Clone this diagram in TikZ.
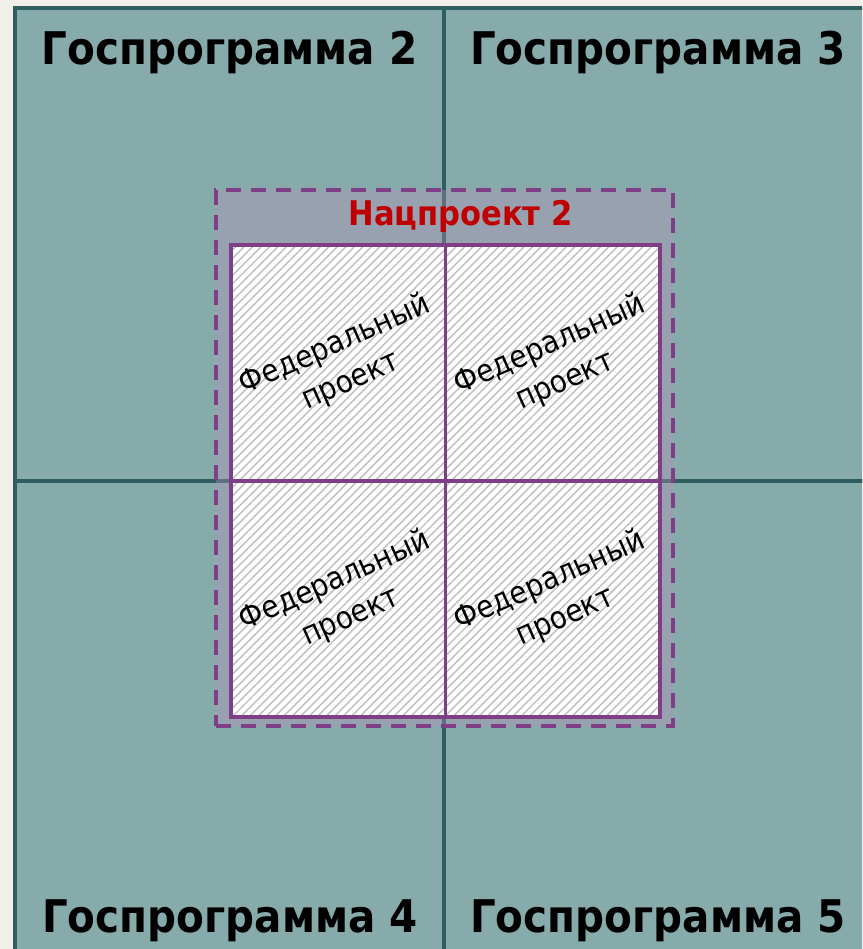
\documentclass[tikz,border=0pt]{standalone}
\usepackage{fontspec}
\setmainfont{DejaVu Sans}[FakeStretch=0.9]
\usetikzlibrary{positioning,patterns.meta}
\definecolor{paper}{HTML}{F1EFE8}
\definecolor{gpfill}{HTML}{87AAAA}
\definecolor{gpline}{HTML}{2F5E61}
\definecolor{npline}{HTML}{7F3F87}
\definecolor{npfill}{HTML}{B893BB}
\definecolor{npred}{HTML}{C00000}
\definecolor{hatch}{HTML}{BDBDBD}

\begin{document}
\begin{tikzpicture}[x=1pt,y=-1pt,
every node/.style = {inner sep=0pt, outer sep=0pt},
gparea/.style = {fill=gpfill, draw=gpline, line width=3.5pt},
gplabel/.style = {anchor=base, font=\fontsize{45}{52}\selectfont\bfseries},
npbox/.style = {fill=npfill, fill opacity=0.35, draw=npline, draw opacity=1,
  line width=4pt, dash pattern=on 15pt off 10pt},
cell/.style = {draw=npline, line width=3.5pt, minimum width=214.5pt,
  minimum height=236pt, preaction={fill=white},
  pattern={Lines[angle=45,distance=6pt,line width=1.4pt]}, pattern color=hatch},
fptext/.style = {align=center, rotate=24, font=\fontsize{31}{39}\selectfont} ]
\useasboundingbox (0,0) rectangle (862,949);
\clip (0,0) rectangle (862,949);
\fill[paper] (0,0) rectangle (862,949);
% four state programmes
\draw[gparea] (15,8) rectangle (444,481);
\draw[gparea] (444,8) rectangle (890,481);
\draw[gparea] (15,481) rectangle (444,970);
\draw[gparea] (444,481) rectangle (890,970);
\node[gplabel] (gp2) at (229.5,65) {Госпрограмма 2};
\node[gplabel] (gp3) at (658,65) {Госпрограмма 3};
\node[gplabel] (gp4) at (230,932) {Госпрограмма 4};
\node[gplabel] (gp5) at (658,932) {Госпрограмма 5};
% national project
\node[npbox, minimum width=457pt, minimum height=536pt] (np) at (444.5,458) {};
\node[anchor=base, text=npred, font=\fontsize{34}{40}\selectfont\bfseries]
  (nptitle) at (460.5,226) {Нацпроект 2};
\node[cell] (c1) at (338,363) {};
\node[cell, right=0pt of c1] (c2) {};
\node[cell, below=0pt of c1] (c3) {};
\node[cell, right=0pt of c3] (c4) {};
\node[fptext] (fp1) at ([xshift=5pt,yshift=0pt]c1.center) {Федеральный\\проект};
\node[fptext] (fp2) at ([xshift=5pt,yshift=0pt]c2.center) {Федеральный\\проект};
\node[fptext] (fp3) at ([xshift=5pt,yshift=0pt]c3.center) {Федеральный\\проект};
\node[fptext] (fp4) at ([xshift=5pt,yshift=0pt]c4.center) {Федеральный\\проект};
\end{tikzpicture}
\end{document}
